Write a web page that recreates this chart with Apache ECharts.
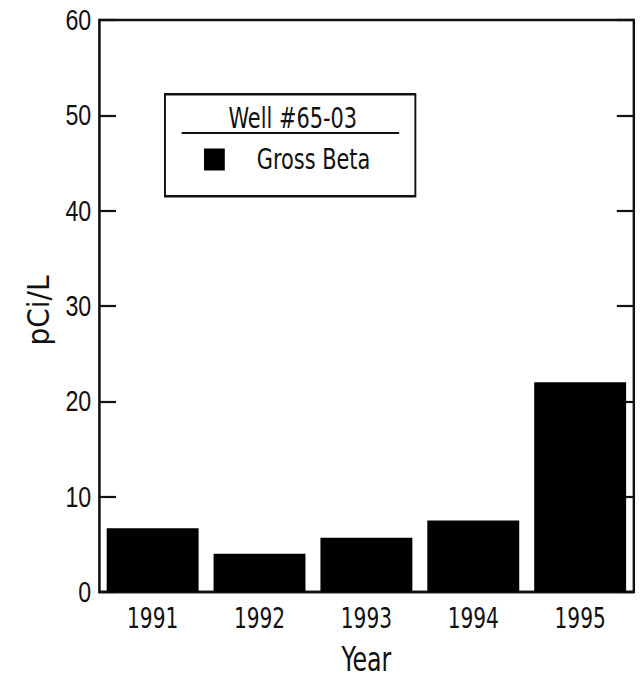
<!DOCTYPE html>
<html>
<head>
<meta charset="utf-8">
<script src="https://cdn.jsdelivr.net/npm/echarts@6/dist/echarts.min.js"></script>
<style>
  html, body { margin: 0; padding: 0; background: #fff; overflow: hidden; }
  /* the chart is laid out wide and narrowed horizontally, giving the condensed type of the original figure */
  #chart { width: 802.5px; height: 681px; transform: scaleX(0.8); transform-origin: 0 0; }
</style>
</head>
<body>
<div id="chart"></div>
<script>
// Annual gross beta activity in well #65-03
const years = ['1991', '1992', '1993', '1994', '1995'];
const grossBeta = [6.7, 4.0, 5.7, 7.5, 22.0];
const yTicks = [0, 10, 20, 30, 40, 50, 60];
const seriesName = 'Gross Beta';
const legendTitle = 'Well #65-03';
const yTitle = 'pCi/L';
const xTitle = 'Year';

const squeeze = 0.8;   // horizontal factor applied to the whole chart by CSS
const narrow = '"DejaVu Sans Condensed", "DejaVu Sans", sans-serif';
const regular = '"Liberation Sans", Arial, sans-serif';
const ink = '#111';

const gridTop = 20, gridBottom = 86, chartHeight = 681;

const chart = echarts.init(document.getElementById('chart'), null, { renderer: 'svg' });

const yAxisBase = {
  type: 'value',
  min: yTicks[0],
  max: yTicks[yTicks.length - 1],
  interval: yTicks[1] - yTicks[0],
  axisLine: { show: true, lineStyle: { color: ink, width: 2.6 } },
  axisTick: { show: true, inside: true, length: 21, lineStyle: { color: ink, width: 2.2 } },
  splitLine: { show: false }
};

chart.setOption({
  animation: false,
  backgroundColor: '#ffffff',
  grid: {
    left: 124, right: 11, top: gridTop, bottom: gridBottom,
    show: true, borderColor: ink, borderWidth: 2.4, backgroundColor: 'transparent'
  },
  xAxis: {
    type: 'category',
    data: years,
    name: xTitle,
    nameLocation: 'middle',
    nameGap: 51,
    nameTextStyle: { fontFamily: narrow, fontSize: 33, color: ink },
    axisLine: { lineStyle: { color: ink, width: 2.4 } },
    axisTick: { show: false },
    axisLabel: { fontFamily: narrow, fontSize: 28, color: ink, margin: 12 }
  },
  yAxis: [
    Object.assign({}, yAxisBase, {
      axisLabel: { fontFamily: regular, fontSize: 29, color: ink, margin: 10 }
    }),
    Object.assign({}, yAxisBase, {
      position: 'right',
      axisLabel: { show: false }
    })
  ],
  legend: {
    data: [seriesName],
    left: 255,
    top: 145,
    padding: 0,
    itemWidth: 26,
    itemHeight: 22,
    icon: 'rect',
    textStyle: { fontFamily: narrow, fontSize: 29, color: ink, padding: [0, 0, 0, 35] }
  },
  graphic: [
    {
      // vertical axis title; its own scaleY cancels the page squeeze across the glyphs
      type: 'text',
      x: 38 / squeeze,
      y: (gridTop + chartHeight - gridBottom) / 2 + 3,
      rotation: Math.PI / 2,
      scaleX: 1,
      scaleY: 1 / squeeze,
      style: { text: yTitle, font: '31px ' + narrow, fill: ink, textAlign: 'center', textVerticalAlign: 'middle' }
    },
    {
      type: 'rect', left: 205, top: 93, z: 0,
      shape: { width: 313, height: 102 },
      style: { fill: '#fff', stroke: ink, lineWidth: 2.4 }
    },
    {
      type: 'text', x: 366, y: 104, z: 1,
      style: { text: legendTitle, font: '29px ' + narrow, fill: ink, textAlign: 'center' }
    },
    {
      type: 'line', z: 1,
      shape: { x1: 227, y1: 133, x2: 499, y2: 133 },
      style: { stroke: ink, lineWidth: 2.2 }
    }
  ],
  series: [
    {
      name: seriesName,
      type: 'bar',
      data: grossBeta,
      barCategoryGap: '14%',
      itemStyle: { color: '#000' }
    }
  ]
});
</script>
</body>
</html>
